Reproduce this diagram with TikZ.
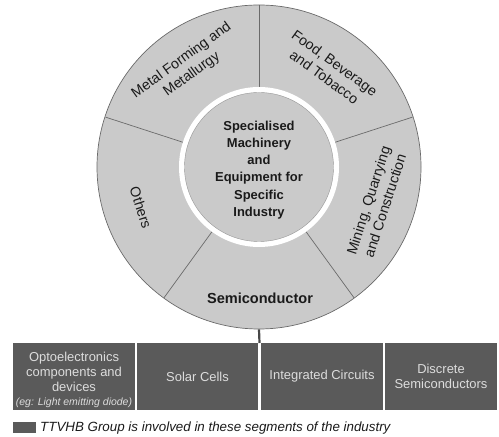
\documentclass[tikz,border=0pt]{standalone}
\usepackage{fontspec}
\setmainfont{Liberation Sans}
\usetikzlibrary{calc}
\definecolor{ringgray}{HTML}{CACACA}
\definecolor{edgegray}{HTML}{6A6A6A}
\definecolor{segdark}{HTML}{5A5A5A}
\definecolor{segtext}{HTML}{DDDDDD}
\definecolor{inkdark}{HTML}{1A1A1A}
\tikzset{
  sectorlabel/.style={text=inkdark, align=center, font=\fontsize{14.3}{17.5}\selectfont, inner sep=0pt},
  hublabel/.style={text=inkdark, align=center, font=\bfseries\fontsize{13}{17.2}\selectfont, inner sep=0pt},
  segbox/.style={fill=segdark, draw=none, text=segtext, align=center, inner sep=0pt,
    font=\fontsize{13}{15}\selectfont},
  divider/.style={draw=edgegray, line width=0.7pt},
}
\begin{document}
\begin{tikzpicture}[x=1bp,y=1bp]
\useasboundingbox (0,0) rectangle (499,437);
\coordinate (c) at (259,270);
% outer ring of industry sectors
\node[circle, minimum size=324bp, fill=ringgray, draw=edgegray, line width=0.7pt, inner sep=0pt] (outer) at (c) {};
% sector dividers
\foreach \a in {90,162,234,306,18}
  \draw[divider] ($(c)+(\a:80)$) -- ($(c)+(\a:161.5)$);
% white ring and central hub
\node[circle, minimum size=160bp, fill=white, draw=none, inner sep=0pt] (ring) at (c) {};
\node[circle, minimum size=149bp, fill=ringgray, draw=edgegray!70, line width=0.4pt, inner sep=0pt] (hub) at (c) {};
\node[hublabel] (hubtext) at (259,267) {Specialised\\Machinery\\and\\Equipment for\\Specific\\Industry};
% sector labels
\node[sectorlabel, rotate=36] (metal) at ($(c)+(126:123)$) {Metal Forming and\\Metallurgy};
\node[sectorlabel, rotate=-36] (food) at ($(c)+(54:120)$) {Food, Beverage\\and Tobacco};
\node[sectorlabel, rotate=72] (mining) at ($(c)+(-17:123)$) {Mining, Quarrying\\and Construction};
\node[sectorlabel, rotate=-72] (others) at ($(c)+(199:125)$) {Others};
\node[text=inkdark, font=\bfseries\fontsize{14.6}{17}\selectfont, inner sep=0pt] (semi) at (260,139) {Semiconductor};
% semiconductor segments
\node[segbox, minimum width=122bp, minimum height=67bp] (opto) at (74,60.5) {};
\node[segbox, minimum width=121bp, minimum height=67bp] (solar) at (197.5,60.5) {Solar Cells};
\node[segbox, minimum width=122bp, minimum height=67bp] (ic) at (322,60.5) {Integrated Circuits};
\node[segbox, minimum width=112bp, minimum height=67bp] (discrete) at (441,60.5) {Discrete\\Semiconductors};
\node[text=segtext, align=center, inner sep=0pt, font=\fontsize{13}{15}\selectfont] (optotext) at (74,57)
  {Optoelectronics\\components and\\devices\\[-1.5bp]{\fontsize{10.5}{13}\selectfont\itshape (eg: Light emitting diode)}};
% link from the semiconductor sector down to its segments
\coordinate (gap) at (259.5,94);
\draw[draw=inkdark!80, line width=2.2pt] (outer.south) -- (gap);
% legend
\node[fill=segdark, minimum width=23bp, minimum height=11bp, inner sep=0pt] (key) at (24.5,9.5) {};
\node[anchor=base west, text=inkdark, font=\itshape\fontsize{13.4}{16}\selectfont, inner sep=0pt] (keytext) at (40,5.5) {TTVHB Group is involved in these segments of the industry};
\end{tikzpicture}
\end{document}
